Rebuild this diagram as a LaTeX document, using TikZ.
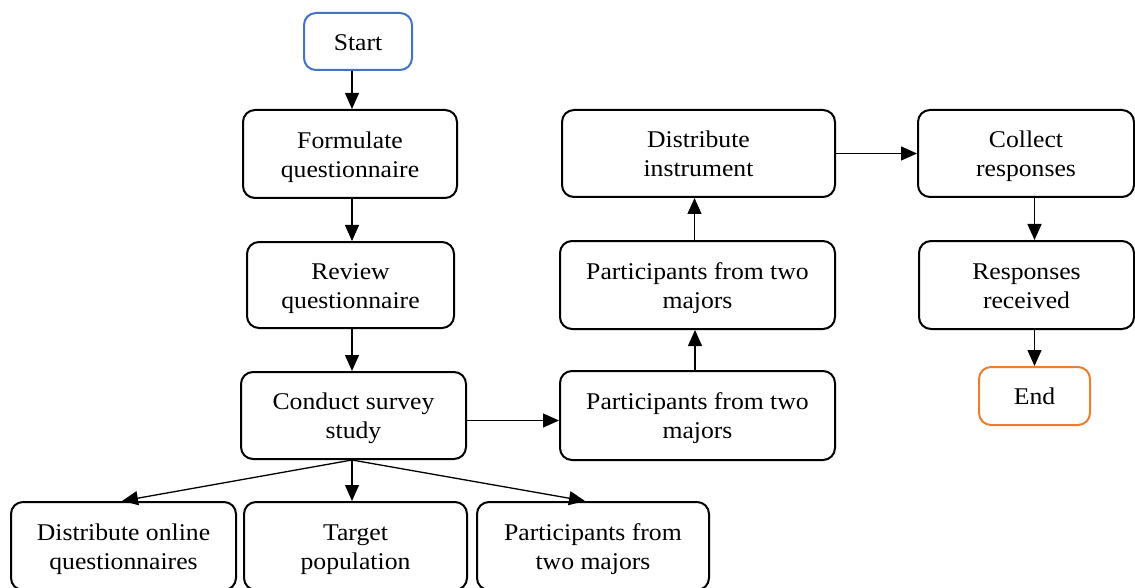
\documentclass[tikz,border=0pt]{standalone}
\usepackage{fontspec}
\setmainfont[FakeStretch=1.07]{Liberation Serif}
\usetikzlibrary{arrows.meta,calc}
\definecolor{startblue}{HTML}{4472C4}
\definecolor{endorange}{HTML}{ED7D31}
\newcommand\bt[1]{\raisebox{-3pt}[\height][\depth]{\begin{tabular}{@{}c@{}}#1\end{tabular}}}
\begin{document}
\begin{tikzpicture}[x=1pt,y=-1pt,
  box/.style={draw=black,line width=2pt,rounded corners=12pt,rectangle,inner sep=0pt,
    font=\fontsize{24}{29}\selectfont},
  arr/.style={line width=1.3pt,-{Triangle[length=16pt,width=14pt]}}]
\useasboundingbox (0,0) rectangle (1135,588);
\clip (0,0) rectangle (1135,588);
\node[box,draw=startblue,minimum width=108pt,minimum height=57pt] (start) at (358,41.5) {\bt{Start}};
\node[box,minimum width=214pt,minimum height=88pt] (form) at (350,154) {\bt{Formulate\\questionnaire}};
\node[box,minimum width=207pt,minimum height=86pt] (review) at (350.5,285) {\bt{Review\\questionnaire}};
\node[box,minimum width=225pt,minimum height=87pt] (conduct) at (353.5,415.5) {\bt{Conduct survey\\study}};
\node[box,minimum width=225pt,minimum height=88pt] (dol) at (123.5,546) {\bt{Distribute online\\questionnaires}};
\node[box,minimum width=223pt,minimum height=88pt] (target) at (355.5,546) {\bt{Target\\population}};
\node[box,minimum width=232pt,minimum height=88pt] (pbot) at (593,546) {\bt{Participants from\\two majors}};
\node[box,minimum width=275pt,minimum height=89pt] (pmid) at (697.5,415.5) {\bt{Participants from two\\majors}};
\node[box,minimum width=275pt,minimum height=88pt] (ptop) at (697.5,285) {\bt{Participants from two\\majors}};
\node[box,minimum width=273pt,minimum height=87pt] (dist) at (698.5,153.5) {\bt{Distribute\\instrument}};
\node[box,minimum width=216pt,minimum height=87pt] (collect) at (1026,153.5) {\bt{Collect\\responses}};
\node[box,minimum width=215pt,minimum height=88pt] (resp) at (1026.5,285) {\bt{Responses\\received}};
\node[box,draw=endorange,minimum width=111pt,minimum height=58pt] (end) at (1034.5,396) {\bt{End}};
\draw[arr] ([xshift=-6pt]start.south) -- ([xshift=2pt]form.north);
\draw[arr] ([xshift=2pt]form.south) -- ([xshift=1.5pt]review.north);
\draw[arr] ([xshift=1.5pt]review.south) -- ([xshift=-1.5pt]conduct.north);
\draw[arr] ([yshift=-5pt]conduct.east) -- ([yshift=-5pt]conduct.east -| pmid.west);
\draw[arr] ([xshift=-2.5pt]pmid.north) -- ([xshift=-2.5pt]pmid.north |- ptop.south);
\draw[arr] ([xshift=-3pt]ptop.north) -- ([xshift=-3pt]ptop.north |- dist.south);
\draw[arr] (dist.east) -- (dist.east -| collect.west);
\draw[arr] (end.north |- collect.south) -- (end.north |- resp.north);
\draw[arr] (end.north |- resp.south) -- (end.north);
\draw[arr] ([xshift=-1.5pt]conduct.south) -- ([xshift=-1.5pt]dol.north);
\draw[arr] ([xshift=-1.5pt]conduct.south) -- ([xshift=-3.5pt]target.north);
\draw[arr] ([xshift=-1.5pt]conduct.south) -- ([xshift=-8pt]pbot.north);
\end{tikzpicture}
\end{document}
